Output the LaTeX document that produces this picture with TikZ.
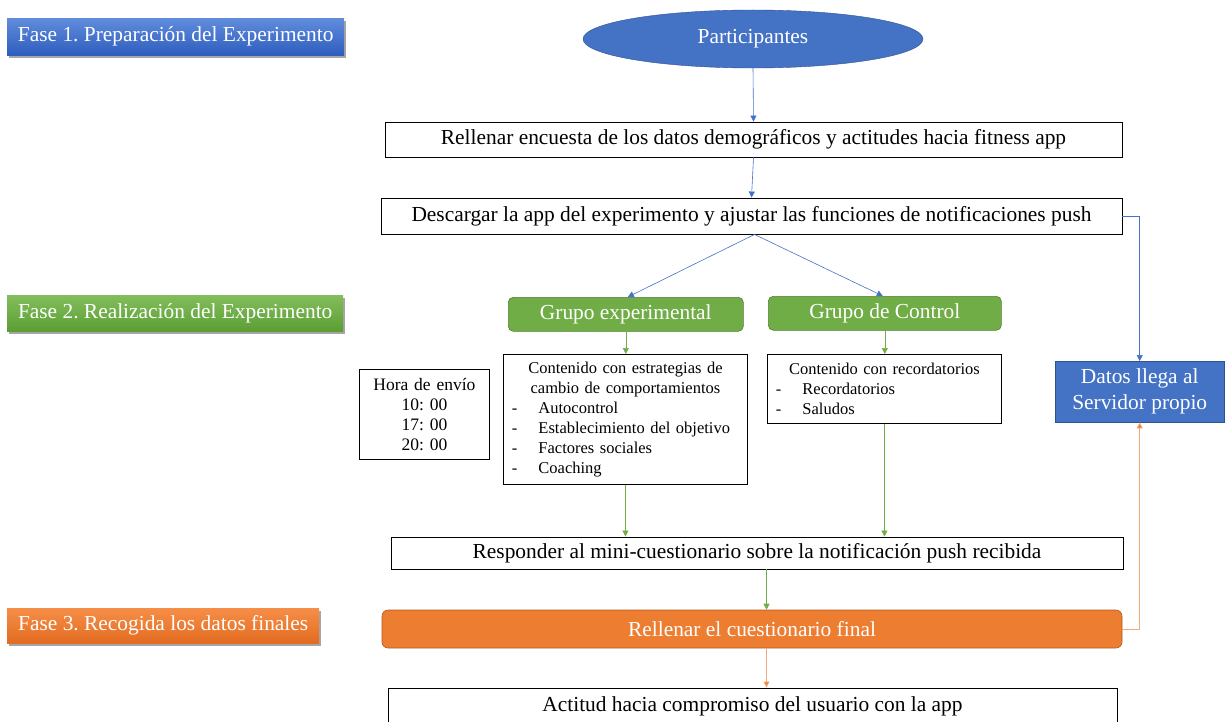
\documentclass[tikz,border=0pt]{standalone}
\usepackage{fontspec}
\setmainfont{Liberation Serif}
\usetikzlibrary{arrows.meta,shadows,shapes.geometric}
\frenchspacing

\definecolor{ofblue}{RGB}{68,114,196}
\definecolor{ofblueline}{RGB}{47,82,143}
\definecolor{ofgreen}{RGB}{112,173,71}
\definecolor{ofgreenline}{RGB}{80,126,50}
\definecolor{oforange}{RGB}{237,125,49}
\definecolor{oforangeline}{RGB}{174,90,33}
\definecolor{lightorange}{RGB}{244,170,120}
\definecolor{phbluetop}{RGB}{96,140,220}
\definecolor{phbluebot}{RGB}{46,94,190}
\definecolor{phgreentop}{RGB}{130,190,92}
\definecolor{phgreenbot}{RGB}{92,158,52}
\definecolor{phorangetop}{RGB}{246,142,72}
\definecolor{phorangebot}{RGB}{226,108,32}

\newcommand\bigtxt{\fontsize{21.4}{26}\selectfont}
\newcommand\smalltxt{\fontsize{16.5}{20}\selectfont}
\newcommand\horatxt{\fontsize{17.5}{20}\selectfont}
% one list entry: a dash, then the item text, left aligned in the box
\newcommand\dashitem[2]{\makebox[#1][l]{\makebox[29pt][l]{\hspace{2.5pt}-}#2}}

\tikzset{
  plainbox/.style={draw=black, line width=0.9pt, fill=white, font=\bigtxt,
    inner sep=0pt},
  phase/.style={font=\bigtxt, text=white, inner sep=0pt, anchor=north west,
    drop shadow={shadow xshift=2pt, shadow yshift=-3pt, fill=black, opacity=0.35}},
  groupbox/.style={rounded corners=5pt, draw=ofgreenline, fill=ofgreen,
    text=white, font=\bigtxt, line width=0.6pt, inner sep=0pt, anchor=north west},
  listbox/.style={draw=black, line width=0.9pt, fill=white, font=\smalltxt,
    align=center, inner xsep=6pt, inner ysep=0pt, anchor=north west},
  tipA/.style={-{Triangle[length=6pt,width=6pt]}},
  bluearrow/.style={tipA, draw=ofblue, line width=0.6pt},
  greenarrow/.style={tipA, draw=ofgreen, line width=0.6pt},
  orangearrow/.style={draw=lightorange, line width=0.8pt,
    -{Triangle[length=6pt,width=6pt,fill=oforange]}},
}

\begin{document}
\begin{tikzpicture}[x=1pt,y=-1pt]
\useasboundingbox (0,0) rectangle (1225,722);
\clip (0,0) rectangle (1225,722);

% phase labels
\node[phase, top color=phbluetop, bottom color=phbluebot,
      minimum width=337pt, minimum height=37pt] (ph1) at (7,18)
  {Fase 1. Preparación del Experimento};
\node[phase, top color=phgreentop, bottom color=phgreenbot,
      minimum width=336pt, minimum height=36pt] (ph2) at (7,295)
  {Fase 2. Realización del Experimento};
\node[phase, top color=phorangetop, bottom color=phorangebot,
      minimum width=312pt, minimum height=35pt] (ph3) at (7,608)
  {Fase 3. Recogida los datos finales};

% main flow
\node[ellipse, draw=ofblueline, fill=ofblue, text=white, font=\bigtxt,
      minimum width=340pt, minimum height=58pt, inner sep=0pt] (part) at (753,39)
  {Participantes};
\node[plainbox, minimum width=737pt, minimum height=35pt] (enc) at (753.5,139.5)
  {Rellenar encuesta de los datos demográficos y actitudes hacia fitness app};
\node[plainbox, minimum width=741pt, minimum height=36pt] (desc) at (751.5,216)
  {Descargar la app del experimento y ajustar las funciones de notificaciones push};

\node[groupbox, minimum width=235pt, minimum height=34pt] (gexp) at (508,297)
  {Grupo experimental};
\node[groupbox, minimum width=233pt, minimum height=34pt] (gctl) at (768,296)
  {Grupo de Control};

\node[listbox, text width=232pt, minimum height=130pt] (cexp) at (503,354)
  {Contenido con estrategias de\\
   cambio de comportamientos\\
   \dashitem{232pt}{Autocontrol}\\
   \dashitem{232pt}{Establecimiento del objetivo}\\
   \dashitem{232pt}{Factores sociales}\\
   \dashitem{232pt}{Coaching}};
\node[listbox, text width=222pt, minimum height=69pt] (cctl) at (767,354)
  {Contenido con recordatorios\\
   \dashitem{222pt}{Recordatorios}\\
   \dashitem{222pt}{Saludos}};
\node[listbox, font=\horatxt, text width=118pt, minimum height=90pt] (hora) at (359,369)
  {Hora de envío\\ 10: 00\\ 17: 00\\ 20: 00};

\node[draw=ofblueline, fill=ofblue, text=white, font=\bigtxt, align=center,
      inner sep=0pt, minimum width=169pt, minimum height=61pt, anchor=north west]
  (datos) at (1055,361) {Datos llega al\\ Servidor propio};

\node[plainbox, minimum width=732pt, minimum height=32pt] (resp) at (757,553)
  {Responder al mini-cuestionario sobre la notificación push recibida};
\node[rounded corners=6pt, draw=oforangeline, fill=oforange, text=white,
      font=\bigtxt, inner sep=0pt, line width=0.6pt,
      minimum width=740pt, minimum height=38pt] (final) at (752,629)
  {Rellenar el cuestionario final};
\node[plainbox, minimum width=729pt, minimum height=36pt] (act) at (752.5,706)
  {Actitud hacia compromiso del usuario con la app};

\coordinate (lane) at (766.5,0);

% connectors
\draw[bluearrow] (part.south) -- (enc.north);
\draw[bluearrow] (enc.south) -- (desc.north);
\draw[bluearrow] ([xshift=3pt]desc.south) -- ([xshift=2pt]gexp.north);
\draw[bluearrow] ([xshift=3pt]desc.south) -- ([xshift=-2pt]gctl.north);
\draw[bluearrow] (desc.east) -| (datos.north);

\draw[greenarrow] (gexp.south) -- (gexp.south |- cexp.north);
\draw[greenarrow] (gctl.south) -- (gctl.south |- cctl.north);
\draw[greenarrow] (cexp.south) -- (cexp.south |- resp.north);
\draw[greenarrow] (cctl.south) -- (cctl.south |- resp.north);
\draw[greenarrow] (resp.south -| lane) -- (final.north -| lane);

\draw[orangearrow] (final.south -| lane) -- (act.north -| lane);
\draw[orangearrow] (final.east) -| (datos.south);
\end{tikzpicture}
\end{document}
